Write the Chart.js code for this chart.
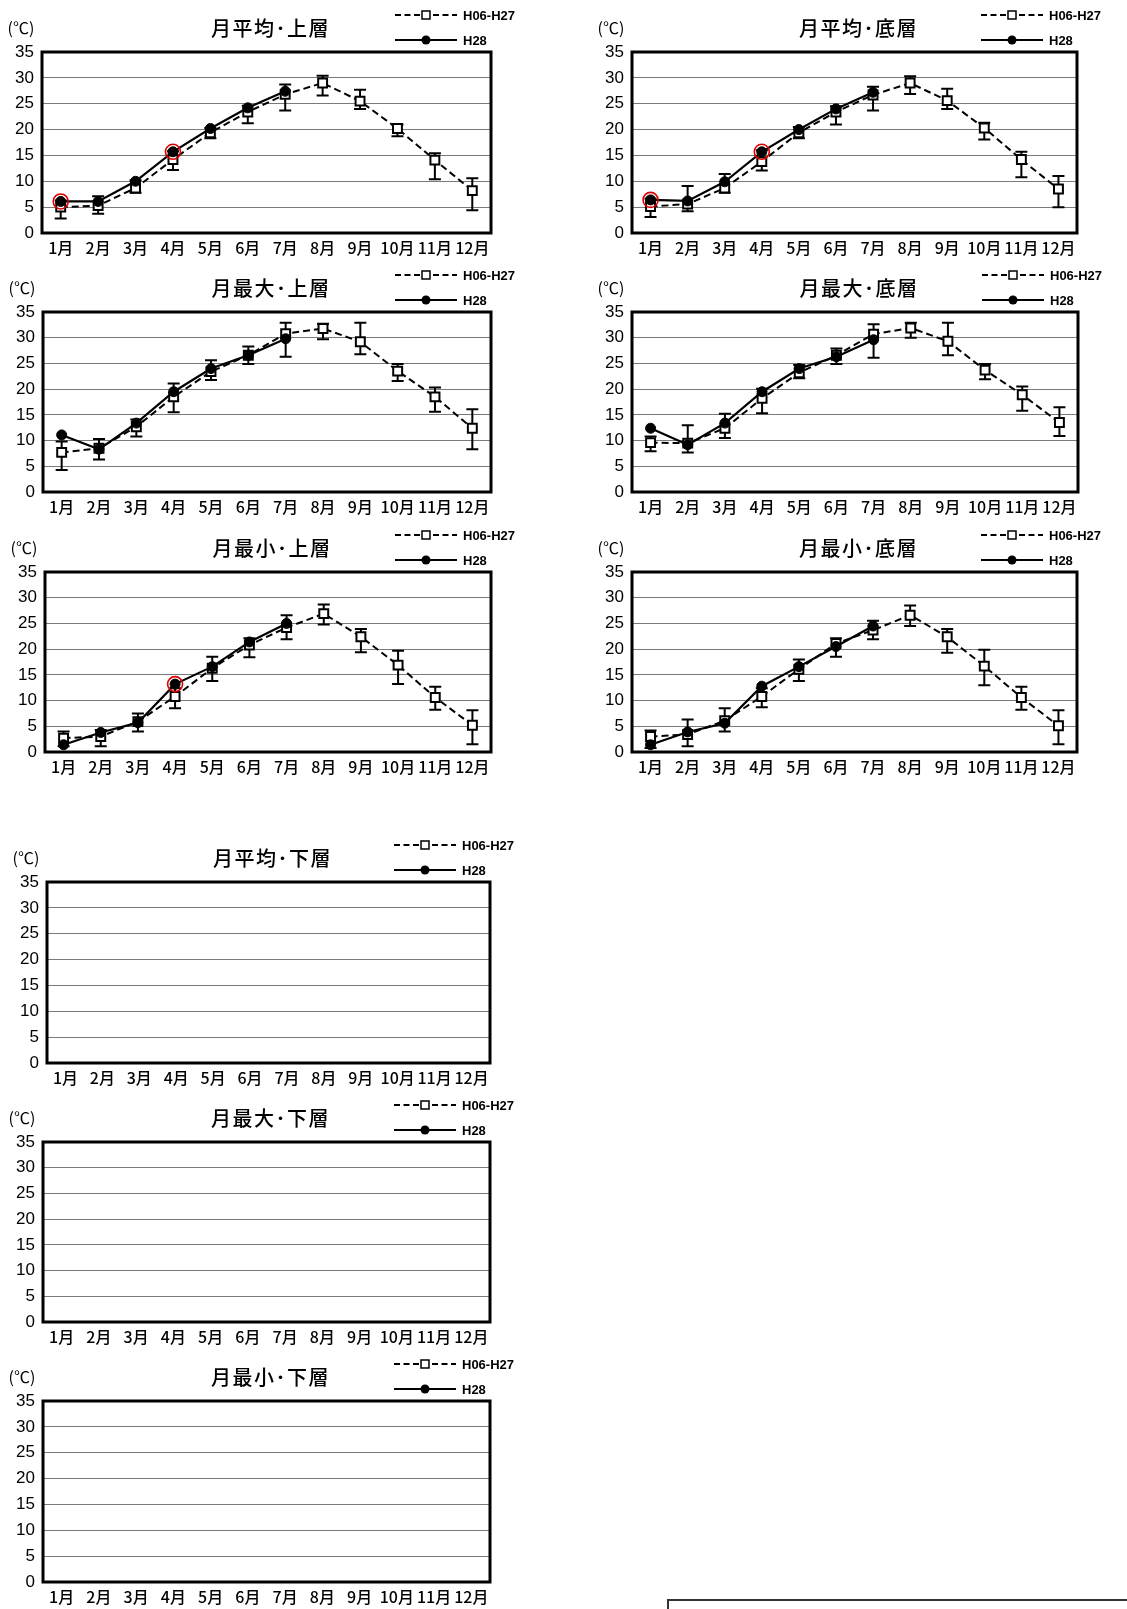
<!DOCTYPE html>
<html>
<head>
<meta charset="utf-8">
<script src="https://cdn.jsdelivr.net/npm/chart.js@4.4.1/dist/chart.umd.min.js"></script>
<style>
  html, body { margin: 0; padding: 0; background: #fff; }
  body { width: 1127px; height: 1609px; overflow: hidden; position: relative; }
  canvas { position: absolute; display: block; }
  #note { position: absolute; left: 667px; top: 1599px; width: 470px; height: 40px; box-sizing: border-box;
          border: 2px solid #333; font: 16px "Noto Sans CJK JP", sans-serif; padding: 4px 0 0 90px; color: #000; }
</style>
</head>
<body>
<div id="note">最大</div>
<script>
// months and y range
const months = ['1月', '2月', '3月', '4月', '5月', '6月', '7月', '8月', '9月', '10月', '11月', '12月'];
const yMin = 0, yMax = 35, yStep = 5;
const legendPast = 'H06-H27';
const legendNow = 'H28';

// 月平均・上層
const avgTopMean = [5.0, 5.3, 8.7, 14.2, 19.4, 23.4, 26.8, 29.0, 25.5, 20.2, 14.1, 8.2];
const avgTopLow  = [2.8, 3.7, 7.8, 12.2, 18.3, 21.2, 23.7, 26.6, 24.0, 18.7, 10.4, 4.4];
const avgTopHigh = [6.3, 7.1, 10.2, 15.8, 20.3, 24.6, 28.7, 30.4, 27.7, 21.0, 15.4, 10.6];
const avgTopH28  = [6.1, 6.1, 10.0, 15.7, 20.2, 24.2, 27.4, null, null, null, null, null];
const avgTopCircled = ['1月', '4月'];

// 月平均・底層
const avgBotMean = [5.1, 5.6, 8.7, 13.8, 19.4, 23.4, 26.7, 29.0, 25.6, 20.3, 14.2, 8.5];
const avgBotLow  = [3.1, 4.2, 7.8, 12.1, 18.3, 21.0, 23.7, 26.9, 24.0, 18.1, 10.8, 5.0];
const avgBotHigh = [6.6, 9.1, 11.4, 16.0, 20.5, 24.5, 28.3, 30.3, 27.9, 21.3, 15.7, 11.0];
const avgBotH28  = [6.4, 6.2, 9.9, 15.7, 20.0, 24.0, 27.2, null, null, null, null, null];
const avgBotCircled = ['1月', '4月'];

// 月最大・上層
const maxTopMean = [7.7, 8.5, 12.7, 18.5, 23.4, 26.6, 30.8, 31.8, 29.2, 23.5, 18.5, 12.4];
const maxTopLow  = [4.3, 6.3, 10.8, 15.5, 21.8, 24.9, 26.3, 29.7, 26.8, 21.6, 15.6, 8.3];
const maxTopHigh = [9.8, 10.3, 14.1, 21.1, 25.6, 28.3, 32.9, 32.7, 32.9, 24.9, 20.3, 16.1];
const maxTopH28  = [11.1, 8.3, 13.4, 19.5, 24.0, 26.6, 29.8, null, null, null, null, null];

// 月最大・底層
const maxBotMean = [9.6, 9.5, 12.4, 18.2, 23.2, 26.6, 30.7, 31.9, 29.3, 23.7, 18.9, 13.5];
const maxBotLow  = [7.9, 7.7, 10.5, 15.3, 22.1, 24.9, 26.1, 30.0, 26.6, 21.9, 15.8, 10.9];
const maxBotHigh = [10.8, 13.0, 15.2, 20.1, 24.7, 27.9, 32.6, 32.9, 32.9, 24.9, 20.5, 16.5];
const maxBotH28  = [12.4, 9.2, 13.4, 19.5, 24.0, 26.3, 29.6, null, null, null, null, null];

// 月最小・上層
const minTopMean = [2.7, 3.0, 5.9, 10.8, 16.3, 20.8, 24.2, 26.9, 22.4, 16.9, 10.6, 5.2];
const minTopLow  = [1.1, 1.1, 4.0, 8.5, 13.8, 18.4, 21.9, 24.8, 19.4, 13.2, 8.2, 1.5];
const minTopHigh = [4.0, 4.3, 7.5, 12.4, 18.5, 22.1, 26.6, 28.7, 23.9, 19.7, 12.7, 8.1];
const minTopH28  = [1.4, 3.8, 5.7, 13.2, 16.6, 21.4, 25.0, null, null, null, null, null];
const minTopCircled = ['4月'];

// 月最小・底層
const minBotMean = [3.0, 3.4, 6.1, 10.8, 16.1, 21.1, 23.7, 26.6, 22.4, 16.7, 10.6, 5.1];
const minBotLow  = [0.8, 1.1, 4.0, 8.7, 13.8, 18.5, 21.9, 24.5, 19.3, 13.0, 8.2, 1.5];
const minBotHigh = [4.2, 6.3, 8.5, 12.4, 18.0, 22.1, 25.5, 28.5, 23.9, 19.9, 12.7, 8.1];
const minBotH28  = [1.4, 3.9, 5.6, 12.8, 16.6, 20.5, 24.5, null, null, null, null, null];

// 下層 (no data)
const lowerEmpty = [];

const cjk = '"Noto Sans CJK JP", sans-serif';

// frame, error bars, title, unit and legend for one panel
function deco(title, low, high) {
  return {
    id: 'deco',
    beforeDatasetsDraw(chart) {
      const { ctx, chartArea: a, scales: { x, y } } = chart;
      ctx.save();
      ctx.strokeStyle = '#000';
      ctx.lineWidth = 3;
      ctx.strokeRect(a.left, a.top, a.right - a.left, a.bottom - a.top);
      ctx.lineWidth = 2;
      low.forEach((lo, i) => {
        const hi = high[i];
        if (lo == null || hi == null) return;
        const px = x.getPixelForValue(i);
        const y1 = y.getPixelForValue(lo), y2 = y.getPixelForValue(hi);
        ctx.beginPath();
        ctx.moveTo(px, y1); ctx.lineTo(px, y2);
        ctx.moveTo(px - 6, y1); ctx.lineTo(px + 6, y1);
        ctx.moveTo(px - 6, y2); ctx.lineTo(px + 6, y2);
        ctx.stroke();
      });
      ctx.restore();
    },
    afterDraw(chart) {
      const { ctx, chartArea: a } = chart;
      ctx.save();
      ctx.fillStyle = '#000';
      ctx.textBaseline = 'middle';
      ctx.textAlign = 'center';
      ctx.font = '500 20px ' + cjk;
      ctx.letterSpacing = '1.5px';
      ctx.fillText(title, (a.left + a.right) / 2 + 4, a.top - 24);
      ctx.letterSpacing = '0px';
      ctx.font = '16px ' + cjk;
      ctx.fillText('(℃)', a.left - 21, a.top - 24);

      // legend
      const x0 = a.right - 96, x1 = a.right - 34, mx = a.right - 65;
      const r1 = a.top - 37, r2 = a.top - 12;
      ctx.strokeStyle = '#000';
      ctx.lineWidth = 2;
      ctx.setLineDash([6, 3.5]);
      ctx.beginPath(); ctx.moveTo(x0, r1); ctx.lineTo(x1, r1); ctx.stroke();
      ctx.setLineDash([]);
      ctx.fillStyle = '#fff';
      ctx.lineWidth = 1.5;
      ctx.fillRect(mx - 4, r1 - 4, 8, 8);
      ctx.strokeRect(mx - 4, r1 - 4, 8, 8);
      ctx.lineWidth = 2;
      ctx.beginPath(); ctx.moveTo(x0, r2); ctx.lineTo(x1, r2); ctx.stroke();
      ctx.fillStyle = '#000';
      ctx.beginPath(); ctx.arc(mx, r2, 4.5, 0, Math.PI * 2); ctx.fill();
      ctx.textAlign = 'left';
      ctx.font = 'bold 13px "Liberation Sans Narrow", "Liberation Sans", sans-serif';
      ctx.fillText(legendPast, a.right - 28, r1 + 1);
      ctx.fillText(legendNow, a.right - 28, r2 + 1);
      ctx.restore();
    }
  };
}

function panel(id, colX, L, T, R, B, title, mean, low, high, h28, circled) {
  const cv = document.createElement('canvas');
  cv.id = id;
  const w = R + 49 - colX, h = B - T + 52 + 27;
  cv.width = w; cv.height = h;
  cv.style.left = colX + 'px';
  cv.style.top = (T - 52) + 'px';
  cv.style.width = w + 'px';
  cv.style.height = h + 'px';
  document.body.appendChild(cv);

  const ring = months.map((m, i) => (circled.includes(m) ? h28[i] : null));

  new Chart(cv, {
    type: 'line',
    data: {
      labels: months,
      datasets: [
        {
          label: legendPast, data: mean, order: 3,
          borderColor: '#000', borderWidth: 2, borderDash: [7, 4], fill: false, tension: 0,
          pointStyle: 'rect', pointRadius: 6.3, pointBackgroundColor: '#fff',
          pointBorderColor: '#000', pointBorderWidth: 2
        },
        {
          label: legendNow, data: h28, order: 2,
          borderColor: '#000', borderWidth: 2.2, fill: false, tension: 0,
          pointStyle: 'circle', pointRadius: 5, pointBackgroundColor: '#000',
          pointBorderColor: '#000', pointBorderWidth: 1
        },
        {
          label: 'mark', data: ring, order: 1, showLine: false,
          pointStyle: 'circle', pointRadius: 7.5, pointBackgroundColor: 'rgba(0,0,0,0)',
          pointBorderColor: '#e00000', pointBorderWidth: 1.6
        }
      ]
    },
    options: {
      responsive: false,
      animation: false,
      events: [],
      layout: { padding: { top: 52, right: 49, left: 0, bottom: 0 } },
      plugins: { legend: { display: false }, tooltip: { enabled: false }, title: { display: false } },
      scales: {
        x: {
          type: 'category', offset: true,
          grid: { display: false, drawTicks: false },
          border: { display: false },
          ticks: { color: '#000', font: { family: cjk, size: 16, weight: '500' }, padding: 5, maxRotation: 0, autoSkip: false },
          afterFit(s) { s.height = 27; }
        },
        y: {
          min: yMin, max: yMax,
          grid: {
            drawTicks: false, lineWidth: 1,
            color: (c) => (c.tick.value === yMin || c.tick.value === yMax ? 'rgba(0,0,0,0)' : '#7a7a7a')
          },
          border: { display: false },
          ticks: { stepSize: yStep, color: '#000', font: { family: '"Liberation Sans", sans-serif', size: 17 }, padding: 8 },
          afterFit(s) { s.width = L - colX; }
        }
      }
    },
    plugins: [deco(title, low, high)]
  });
}

panel('c1', 0, 42, 52, 491, 233, '月平均･上層', avgTopMean, avgTopLow, avgTopHigh, avgTopH28, avgTopCircled);
panel('c2', 580, 632, 52, 1077, 233, '月平均･底層', avgBotMean, avgBotLow, avgBotHigh, avgBotH28, avgBotCircled);
panel('c3', 0, 43, 312, 491, 492, '月最大･上層', maxTopMean, maxTopLow, maxTopHigh, maxTopH28, []);
panel('c4', 580, 632, 312, 1078, 492, '月最大･底層', maxBotMean, maxBotLow, maxBotHigh, maxBotH28, []);
panel('c5', 0, 45, 572, 491, 752, '月最小･上層', minTopMean, minTopLow, minTopHigh, minTopH28, minTopCircled);
panel('c6', 580, 632, 572, 1077, 752, '月最小･底層', minBotMean, minBotLow, minBotHigh, minBotH28, []);
panel('c7', 0, 47, 882, 490, 1063, '月平均･下層', lowerEmpty, lowerEmpty, lowerEmpty, lowerEmpty, []);
panel('c8', 0, 43, 1142, 490, 1322, '月最大･下層', lowerEmpty, lowerEmpty, lowerEmpty, lowerEmpty, []);
panel('c9', 0, 43, 1401, 490, 1582, '月最小･下層', lowerEmpty, lowerEmpty, lowerEmpty, lowerEmpty, []);
</script>
</body>
</html>
